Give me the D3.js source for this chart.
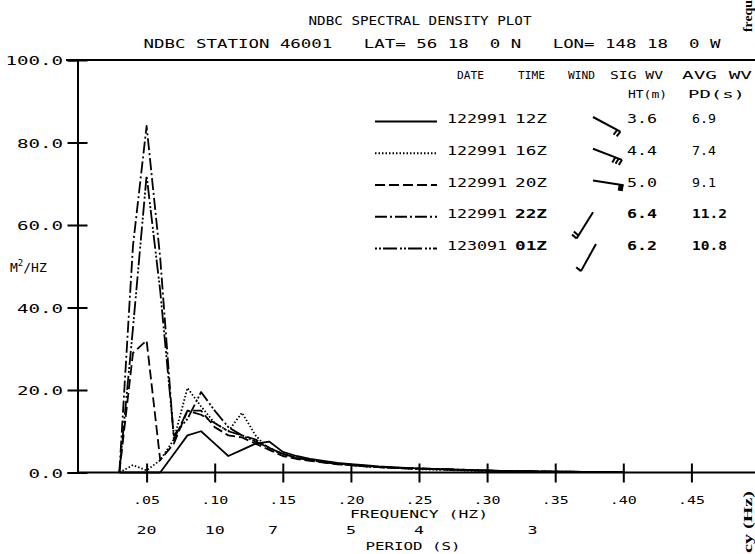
<!DOCTYPE html>
<html><head><meta charset="utf-8">
<script src="https://cdn.jsdelivr.net/npm/d3@7"></script>
<style>body{margin:0;background:#fff}svg{display:block}text{white-space:pre}</style>
</head><body>
<svg id="c" width="755" height="554"></svg>
<script>
// ---------------- DATA ----------------
const freqs = [0.03,0.04,0.05,0.06,0.07,0.08,0.09,0.10,0.11,0.12,0.13,0.14,0.15,0.16,0.17,0.18,0.19,0.20,0.21,0.22,0.23,0.24,0.25,0.26,0.27,0.28,0.29,0.30,0.31,0.32,0.33,0.34,0.35,0.36,0.37,0.38,0.39,0.40];
const s12Z = [0,0,0,0,4.5,9,10,7,4,5.5,7,7.5,5,4,3.3,2.8,2.3,2,1.8,1.5,1.3,1.1,1,0.9,0.8,0.7,0.6,0.5,0.4,0.35,0.3,0.25,0.2,0.2,0.15,0.15,0.1,0.1];
const s16Z = [0,1.8,0.5,3,8,20.5,16,12,10,14.5,9,5.5,4.5,3.5,3,2.5,2.1,1.8,1.5,1.3,1.1,1,0.8,0.7,0.6,0.5,0.4,0.35,0.3,0.25,0.2,0.2,0.15,0.15,0.1,0.1,0.1,0.1];
const s20Z = [0,29,32,3,7,15,15,11,9,8.5,7,5.5,4,3.3,2.8,2.4,2,1.8,1.5,1.3,1.1,1,0.9,0.8,0.7,0.6,0.5,0.4,0.35,0.3,0.25,0.2,0.2,0.15,0.15,0.1,0.1,0.1];
const s22Z = [0,55,84,52,8,15,14,12,10,9,8,6,4.5,3.6,3,2.6,2.2,1.9,1.6,1.4,1.2,1.1,1,0.9,0.8,0.7,0.6,0.5,0.4,0.35,0.3,0.25,0.2,0.2,0.15,0.15,0.1,0.1];
const s01Z = [0,35,72,44,9,13,19.5,15,11,9,7.5,6,4.5,3.5,3,2.5,2.1,1.8,1.5,1.3,1.2,1,0.9,0.8,0.7,0.6,0.5,0.45,0.4,0.35,0.3,0.25,0.2,0.2,0.15,0.15,0.1,0.1];

const legDates = ["122991","122991","122991","122991","123091"];
const legTimes = ["12Z","16Z","20Z","22Z","01Z"];
const legSigWv = ["3.6","4.4","5.0","6.4","6.2"];
const legAvgWv = ["6.9","7.4","9.1","11.2","10.8"];
const windAngle = [28,21,9,122,119];
const windFeathers = [2,3,0,2,1];
const windPennant = [0,0,1,0,0];

const freqTicks = [0.05,0.10,0.15,0.20,0.25,0.30,0.35,0.40,0.45];
const freqTickLabels = [".05",".10",".15",".20",".25",".30",".35",".40",".45"];
const periodLabels = [20,10,7,5,4,3];
const yTicks = [0,20,40,60,80,100];
const yTickLabels = ["0.0","20.0","40.0","60.0","80.0","100.0"];

const seriesList = [s12Z,s16Z,s20Z,s22Z,s01Z];
const dashes = [null,"1.5,2","10,4","12,3,2,3","2,2,2,2,14,3"];

// ---------------- DRAW ----------------
const svg = d3.select("#c");
const FONT = "'DejaVu Sans Mono', monospace";
const x = d3.scaleLinear().domain([0,0.5]).range([78.5,759.5]);
const y = d3.scaleLinear().domain([0,100]).range([472.5,60]);

function txt(px,py,s,len,opt={}){
  const t = svg.append("text").attr("x",px).attr("y",py)
    .attr("font-family",opt.family||FONT).attr("font-size",opt.size||13)
    .attr("fill","#000").attr("text-anchor",opt.anchor||"start")
    .attr("xml:space","preserve")
    .text(s);
  if(len) t.attr("textLength",len).attr("lengthAdjust","spacingAndGlyphs");
  if(opt.weight) t.attr("font-weight",opt.weight);
  if(opt.transform) t.attr("transform",opt.transform);
  return t;
}

// titles
txt(420,25,"NDBC SPECTRAL DENSITY PLOT",223,{anchor:"middle"});
txt(432,48,"NDBC STATION 46001   LAT= 56 18  0 N   LON= 148 18  0 W",577,{anchor:"middle"});

// top frame line
svg.append("line").attr("x1",66).attr("x2",755).attr("y1",y(100)).attr("y2",y(100)).attr("stroke","#000").attr("stroke-width",2);

// y axis
const yAxis = d3.axisLeft(y).tickValues(yTicks).tickSize(10).tickFormat("");
const ga = svg.append("g").attr("transform",`translate(${x(0)-1},0)`).call(yAxis);
ga.select(".domain").attr("stroke","#000").attr("stroke-width",2);
ga.selectAll(".tick line").attr("x1",-10).attr("x2",10).attr("stroke","#000").attr("stroke-width",2);
yTicks.forEach((v,i)=>{
  const s = yTickLabels[i];
  txt(63,y(v)+5,s,s.length*11.5,{anchor:"end",size:12});
});
// y unit label
const ul = svg.append("text").attr("x",10).attr("y",272).attr("font-family",FONT).attr("font-size",13);
ul.append("tspan").text("M");
ul.append("tspan").attr("font-size",9).attr("dy",-6).text("2");
ul.append("tspan").attr("dy",6).text("/HZ");

// x axis
const xAxis = d3.axisBottom(x).tickValues(freqTicks).tickSize(10).tickFormat("");
const gx = svg.append("g").attr("transform",`translate(0,${y(0)})`).call(xAxis);
gx.select(".domain").attr("stroke","#000").attr("stroke-width",2).attr("d",`M${x(0)-1},0H755`);
gx.selectAll(".tick line").attr("y1",-9).attr("y2",10).attr("stroke","#000").attr("stroke-width",2);
freqTicks.forEach((f,i)=>txt(x(f),503.5,freqTickLabels[i],27,{anchor:"middle",size:11}));
txt(419,517.5,"FREQUENCY (HZ)",138,{anchor:"middle",size:11});
periodLabels.forEach(p=>{
  const s = String(p);
  txt(x(1/p),534,s,s.length*10,{anchor:"middle",size:11});
});
txt(413,550,"PERIOD (S)",95,{anchor:"middle",size:11});

// curves
const line = d3.line().x((d,i)=>x(freqs[i])).y(d=>y(d));
seriesList.forEach((s,k)=>{
  const p = svg.append("path").datum(s).attr("d",line)
    .attr("fill","none").attr("stroke","#000").attr("stroke-width",1.8)
    .attr("stroke-linejoin","round");
  if(dashes[k]) p.attr("stroke-dasharray",dashes[k]);
});

// legend
txt(457,79,"DATE",27,{size:11});
txt(518,79,"TIME",27,{size:11});
txt(568,79,"WIND",27,{size:11});
txt(610,79,"SIG WV",53,{size:11});
txt(682,79,"AVG WV",70,{size:11});
txt(628,98,"HT(m)",39,{size:11});
txt(688,98,"PD(s)",57,{size:11});
const rowY = d3.scaleLinear().domain([0,4]).range([123,250]);
legDates.forEach((d,i)=>{
  const by = rowY(i);
  const lp = svg.append("line").attr("x1",375).attr("x2",437).attr("y1",by-1.5).attr("y2",by-1.5)
    .attr("stroke","#000").attr("stroke-width",1.8);
  if(dashes[i]) lp.attr("stroke-dasharray",dashes[i]);
  txt(447,by,d,60,{size:12});
  txt(515,by,legTimes[i],32,{size:12,weight:i>=3?"bold":null});
  txt(627,by,legSigWv[i],30,{size:12,weight:i>=3?"bold":null});
  txt(692,by,legAvgWv[i],legAvgWv[i].length===4?35:24,{size:12,weight:i>=3?"bold":null});
  // wind barb
  const L = 31;
  const g = svg.append("g").attr("transform",`translate(${i===4?596:593},${by-6}) rotate(${windAngle[i]})`);
  g.append("line").attr("x1",0).attr("y1",0).attr("x2",L).attr("y2",0).attr("stroke","#000").attr("stroke-width",2);
  for(let j=0;j<windFeathers[i];j++){
    g.append("line").attr("x1",L-j*3.5).attr("y1",0).attr("x2",L-j*3.5-1).attr("y2",6)
      .attr("stroke","#000").attr("stroke-width",2);
  }
  if(windPennant[i]){
    g.append("path").attr("d",`M${L-5},0L${L},0L${L},6L${L-5},6Z`).attr("fill","#000");
  }
});

// fragments of neighbouring page at right edge
txt(752,32,"frequ",32,{family:"'Liberation Serif', serif",size:12,weight:"bold",transform:"rotate(-90 752 32)"});
txt(752,553,"cy (Hz)",62,{family:"'Liberation Serif', serif",size:12,weight:"bold",transform:"rotate(-90 752 553)"});
</script>
</body></html>
